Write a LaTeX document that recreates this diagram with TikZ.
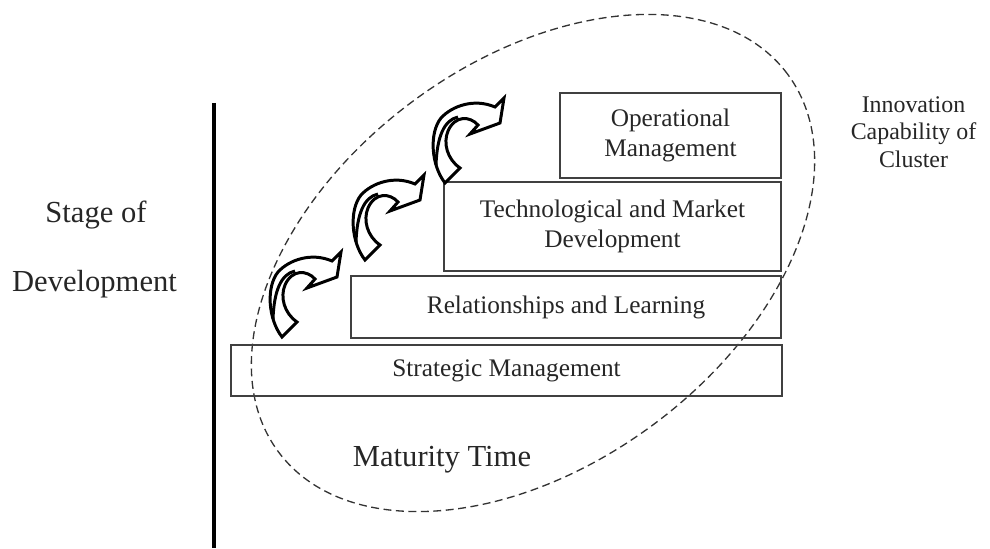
\documentclass[tikz,border=0pt]{standalone}
\usepackage{fontspec}
\setmainfont{Liberation Serif}
\usetikzlibrary{positioning}
\tikzset{
    stagebox/.style = {rectangle, draw=black!75, line width=0.9pt, inner sep=0pt, align=center, font=\fontsize{14.4}{16.8}\selectfont, text=black!85},
    sidetext/.style = {align=center, inner sep=0pt, font=\fontsize{13.6}{15.5}\selectfont, text=black!85},
    bigtext/.style = {inner sep=0pt, anchor=base, font=\fontsize{17.4}{20}\selectfont, text=black!85},
    axisline/.style = {-, line width=2.4pt, black},
    ringline/.style = {-, line width=0.75pt, black!80, dash pattern=on 4.5pt off 2.6pt}, % cluster
    arrowline/.style = {line width=1.7pt, black, fill=white, line join=miter},
    stagearrow/.pic = {
        \draw[arrowline] (-27,-38) .. controls (-41,-20) and (-43,12) .. (-31,27)
            .. controls (-20,39) and (2,47) .. (23,38)
            -- (32,47) -- (28,22) -- (-2,11) -- (6,20)
            .. controls (-2,29) and (-17,30) .. (-24,14)
            .. controls (-29,2) and (-25,-14) .. (-12,-23) -- cycle;
        \draw[arrowline, fill=none] (-14,28) .. controls (-28,25) and (-35,8) .. (-36,-20); % fold
    }
}

\begin{document}
\begin{tikzpicture}[x=0.02cm, y=0.02cm]
\useasboundingbox (0,0) rectangle (990,548);
\coordinate (bartop) at (214,445);
\coordinate (barbot) at (214,0);
\coordinate (ring) at (533,285);
\draw[axisline] (bartop) -- (barbot);
\draw[ringline, rotate around={36.5:(ring)}] (ring) ellipse [x radius=317, y radius=201.5];
\node[stagebox, minimum width=11.02cm, minimum height=1.02cm] at (506.5,177.5) (strategic) {Strategic Management};
\node[stagebox, minimum width=8.6cm, minimum height=1.24cm] at (566,241) (relation) {Relationships and Learning};
\node[stagebox, minimum width=6.74cm, minimum height=1.78cm] at (612.5,321.5) (techmarket) {Technological and Market\\Development};
\node[stagebox, minimum width=4.42cm, minimum height=1.7cm] at (670.5,412.5) (operation) {Operational\\Management};
\pic (stepa) at (309,249) {stagearrow};
\pic (stepb) at (392,326) {stagearrow};
\pic (stepc) at (472,403) {stagearrow};
\node[bigtext] at (96,325.3) (stage) {Stage of};
\node[bigtext] at (94.5,256) (devel) {Development};
\node[bigtext] at (442,81.3) (maturity) {Maturity Time};
\node[sidetext] at (913.5,415.9) (capability) {Innovation\\Capability of\\Cluster};
\end{tikzpicture}
\end{document}
